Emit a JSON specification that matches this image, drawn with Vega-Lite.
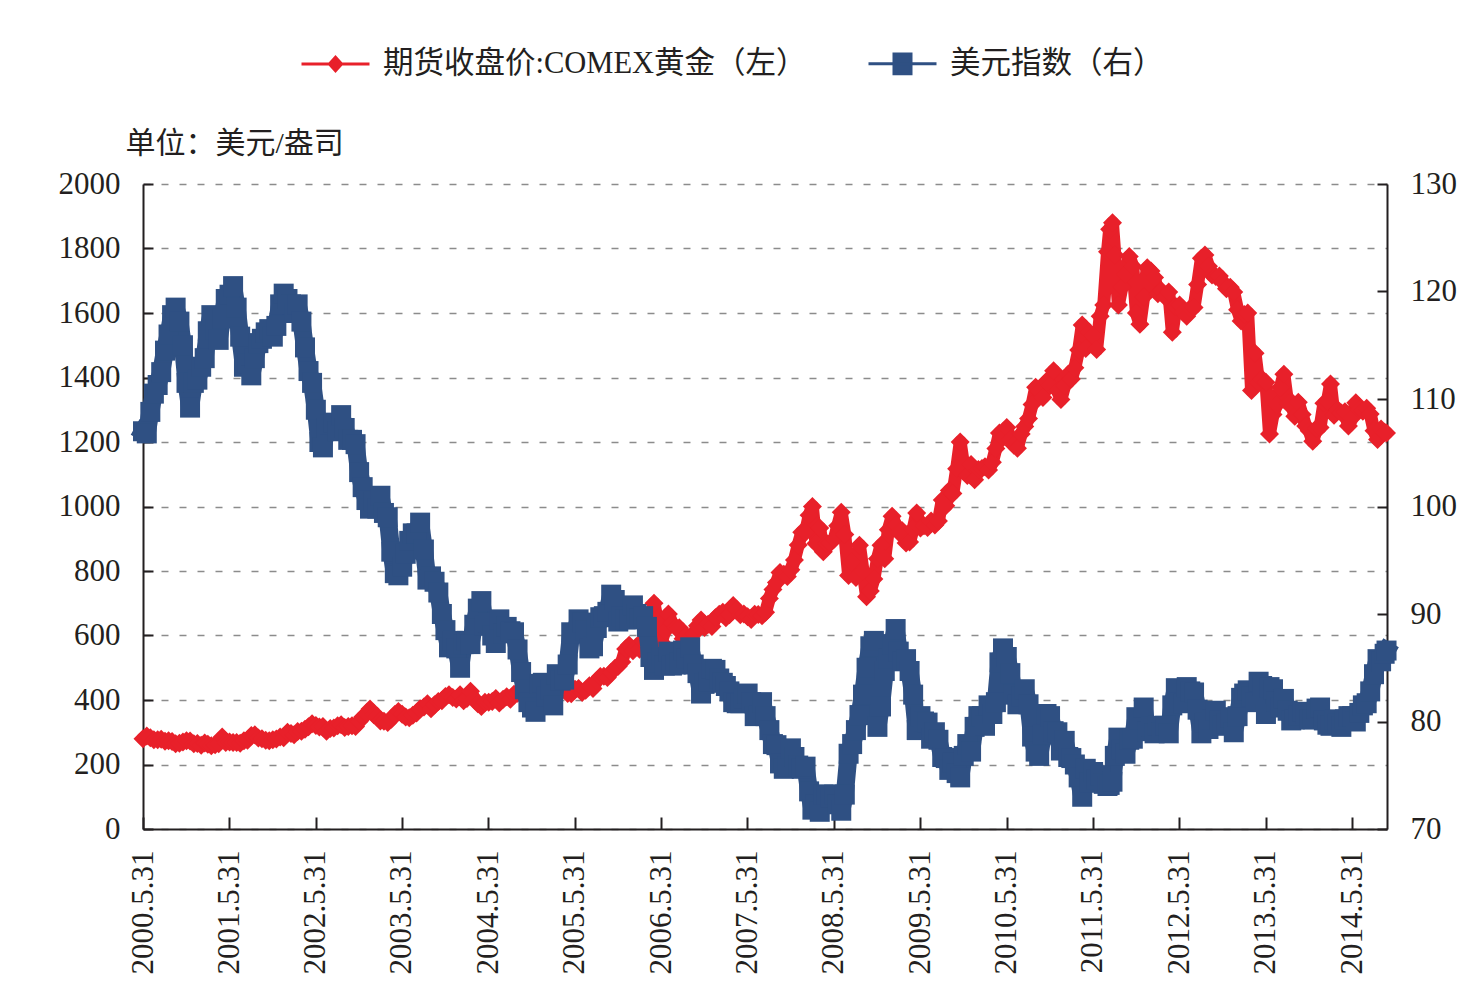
{
  "$schema": "https://vega.github.io/schema/vega-lite/v6.json",
  "width": 1244,
  "height": 645,
  "autosize": {"type": "none"},
  "padding": {"left": 143, "top": 184, "right": 91, "bottom": 178},
  "background": "white",
  "config": {
    "view": {"stroke": null},
    "font": "Liberation Serif, Noto Sans CJK SC",
    "axis": {
      "labelFont": "Liberation Serif, Noto Sans CJK SC",
      "labelFontSize": 31,
      "labelColor": "#231f20",
      "domainColor": "#231f20",
      "domainWidth": 2,
      "tickColor": "#231f20",
      "tickWidth": 2,
      "titleFont": "Liberation Serif, Noto Sans CJK SC",
      "titleColor": "#231f20",
      "titleFontWeight": "normal"
    }
  },
  "data": {
    "values": [
      {"d": "2000-05-31", "g": 280, "u": 107.0},
      {"d": "2000-06-16", "g": 288, "u": 106.8},
      {"d": "2000-07-01", "g": 283, "u": 108.8},
      {"d": "2000-07-16", "g": 277, "u": 110.5},
      {"d": "2000-08-01", "g": 277, "u": 111.3},
      {"d": "2000-08-16", "g": 278, "u": 112.5},
      {"d": "2000-09-01", "g": 272, "u": 114.5},
      {"d": "2000-09-16", "g": 274, "u": 116.0},
      {"d": "2000-10-01", "g": 271, "u": 117.8},
      {"d": "2000-10-16", "g": 264, "u": 118.5},
      {"d": "2000-11-01", "g": 266, "u": 117.2},
      {"d": "2000-11-16", "g": 270, "u": 115.0},
      {"d": "2000-12-01", "g": 274, "u": 111.5},
      {"d": "2000-12-16", "g": 273, "u": 109.2},
      {"d": "2001-01-01", "g": 264, "u": 111.5},
      {"d": "2001-01-16", "g": 265, "u": 111.8},
      {"d": "2001-02-01", "g": 260, "u": 113.0},
      {"d": "2001-02-16", "g": 267, "u": 113.8},
      {"d": "2001-03-01", "g": 263, "u": 116.3},
      {"d": "2001-03-16", "g": 258, "u": 117.8},
      {"d": "2001-04-01", "g": 261, "u": 116.5},
      {"d": "2001-04-16", "g": 264, "u": 115.5},
      {"d": "2001-05-01", "g": 285, "u": 117.5},
      {"d": "2001-05-16", "g": 268, "u": 119.3},
      {"d": "2001-06-01", "g": 270, "u": 119.7},
      {"d": "2001-06-16", "g": 268, "u": 120.5},
      {"d": "2001-07-01", "g": 268, "u": 118.5},
      {"d": "2001-07-16", "g": 266, "u": 115.8},
      {"d": "2001-08-01", "g": 274, "u": 113.0},
      {"d": "2001-08-16", "g": 275, "u": 113.3},
      {"d": "2001-09-01", "g": 290, "u": 112.2},
      {"d": "2001-09-16", "g": 292, "u": 113.8},
      {"d": "2001-10-01", "g": 282, "u": 115.2},
      {"d": "2001-10-16", "g": 280, "u": 115.6},
      {"d": "2001-11-01", "g": 275, "u": 116.2},
      {"d": "2001-11-16", "g": 274, "u": 116.5},
      {"d": "2001-12-01", "g": 277, "u": 115.8},
      {"d": "2001-12-16", "g": 279, "u": 116.8},
      {"d": "2002-01-01", "g": 285, "u": 118.8},
      {"d": "2002-01-16", "g": 283, "u": 119.8},
      {"d": "2002-02-01", "g": 300, "u": 119.3},
      {"d": "2002-02-16", "g": 296, "u": 118.8},
      {"d": "2002-03-01", "g": 292, "u": 118.0},
      {"d": "2002-03-16", "g": 302, "u": 118.8},
      {"d": "2002-04-01", "g": 303, "u": 117.2},
      {"d": "2002-04-16", "g": 309, "u": 114.8},
      {"d": "2002-05-01", "g": 317, "u": 112.6},
      {"d": "2002-05-16", "g": 326, "u": 111.5},
      {"d": "2002-06-01", "g": 321, "u": 109.0},
      {"d": "2002-06-16", "g": 316, "u": 106.0},
      {"d": "2002-07-01", "g": 318, "u": 105.5},
      {"d": "2002-07-16", "g": 303, "u": 107.3},
      {"d": "2002-08-01", "g": 312, "u": 107.6},
      {"d": "2002-08-16", "g": 313, "u": 107.8},
      {"d": "2002-09-01", "g": 320, "u": 107.0},
      {"d": "2002-09-16", "g": 323, "u": 108.5},
      {"d": "2002-10-01", "g": 315, "u": 107.3},
      {"d": "2002-10-16", "g": 318, "u": 106.2},
      {"d": "2002-11-01", "g": 320, "u": 106.2},
      {"d": "2002-11-16", "g": 318, "u": 105.8},
      {"d": "2002-12-01", "g": 333, "u": 103.2},
      {"d": "2002-12-16", "g": 347, "u": 101.8},
      {"d": "2003-01-01", "g": 357, "u": 100.6},
      {"d": "2003-01-16", "g": 372, "u": 99.8},
      {"d": "2003-02-01", "g": 354, "u": 100.5},
      {"d": "2003-02-16", "g": 350, "u": 99.8},
      {"d": "2003-03-01", "g": 335, "u": 101.0},
      {"d": "2003-03-16", "g": 334, "u": 99.4},
      {"d": "2003-04-01", "g": 330, "u": 99.0},
      {"d": "2003-04-16", "g": 340, "u": 95.8},
      {"d": "2003-05-01", "g": 355, "u": 93.8},
      {"d": "2003-05-16", "g": 364, "u": 93.6},
      {"d": "2003-06-01", "g": 356, "u": 94.4},
      {"d": "2003-06-16", "g": 347, "u": 95.6},
      {"d": "2003-07-01", "g": 345, "u": 96.8},
      {"d": "2003-07-16", "g": 353, "u": 97.5},
      {"d": "2003-08-01", "g": 360, "u": 97.5},
      {"d": "2003-08-16", "g": 373, "u": 98.5},
      {"d": "2003-09-01", "g": 378, "u": 96.0},
      {"d": "2003-09-16", "g": 388, "u": 93.2},
      {"d": "2003-10-01", "g": 373, "u": 93.5},
      {"d": "2003-10-16", "g": 385, "u": 93.0},
      {"d": "2003-11-01", "g": 395, "u": 92.0},
      {"d": "2003-11-16", "g": 398, "u": 90.0},
      {"d": "2003-12-01", "g": 411, "u": 88.5},
      {"d": "2003-12-16", "g": 416, "u": 86.9},
      {"d": "2004-01-01", "g": 408, "u": 87.5},
      {"d": "2004-01-16", "g": 403, "u": 86.8},
      {"d": "2004-02-01", "g": 416, "u": 85.0},
      {"d": "2004-02-16", "g": 398, "u": 87.2},
      {"d": "2004-03-01", "g": 405, "u": 87.5},
      {"d": "2004-03-16", "g": 427, "u": 87.2},
      {"d": "2004-04-01", "g": 404, "u": 89.0},
      {"d": "2004-04-16", "g": 388, "u": 90.5},
      {"d": "2004-05-01", "g": 380, "u": 91.2},
      {"d": "2004-05-16", "g": 393, "u": 88.9},
      {"d": "2004-06-01", "g": 393, "u": 89.2},
      {"d": "2004-06-16", "g": 395, "u": 88.0},
      {"d": "2004-07-01", "g": 405, "u": 87.3},
      {"d": "2004-07-16", "g": 391, "u": 89.5},
      {"d": "2004-08-01", "g": 402, "u": 88.2},
      {"d": "2004-08-16", "g": 410, "u": 88.8},
      {"d": "2004-09-01", "g": 402, "u": 88.4},
      {"d": "2004-09-16", "g": 418, "u": 88.3},
      {"d": "2004-10-01", "g": 421, "u": 86.7},
      {"d": "2004-10-16", "g": 429, "u": 84.6},
      {"d": "2004-11-01", "g": 441, "u": 83.0},
      {"d": "2004-11-16", "g": 454, "u": 81.8},
      {"d": "2004-12-01", "g": 439, "u": 81.3},
      {"d": "2004-12-16", "g": 438, "u": 80.9},
      {"d": "2005-01-01", "g": 420, "u": 83.5},
      {"d": "2005-01-16", "g": 423, "u": 83.6},
      {"d": "2005-02-01", "g": 425, "u": 82.3},
      {"d": "2005-02-16", "g": 437, "u": 83.0},
      {"d": "2005-03-01", "g": 442, "u": 81.5},
      {"d": "2005-03-16", "g": 428, "u": 84.4},
      {"d": "2005-04-01", "g": 431, "u": 83.8},
      {"d": "2005-04-16", "g": 436, "u": 83.9},
      {"d": "2005-05-01", "g": 420, "u": 85.3},
      {"d": "2005-05-16", "g": 419, "u": 88.3},
      {"d": "2005-06-01", "g": 433, "u": 88.2},
      {"d": "2005-06-16", "g": 436, "u": 89.5},
      {"d": "2005-07-01", "g": 423, "u": 89.2},
      {"d": "2005-07-16", "g": 430, "u": 88.5},
      {"d": "2005-08-01", "g": 444, "u": 86.8},
      {"d": "2005-08-16", "g": 436, "u": 87.0},
      {"d": "2005-09-01", "g": 460, "u": 88.7},
      {"d": "2005-09-16", "g": 473, "u": 89.7},
      {"d": "2005-10-01", "g": 474, "u": 89.8},
      {"d": "2005-10-16", "g": 470, "u": 90.2},
      {"d": "2005-11-01", "g": 485, "u": 91.8},
      {"d": "2005-11-16", "g": 498, "u": 91.3},
      {"d": "2005-12-01", "g": 505, "u": 89.3},
      {"d": "2005-12-16", "g": 518, "u": 89.8},
      {"d": "2006-01-01", "g": 558, "u": 89.5},
      {"d": "2006-01-16", "g": 570, "u": 89.5},
      {"d": "2006-02-01", "g": 553, "u": 90.8},
      {"d": "2006-02-16", "g": 566, "u": 90.0},
      {"d": "2006-03-01", "g": 557, "u": 89.6},
      {"d": "2006-03-16", "g": 584, "u": 89.8},
      {"d": "2006-04-01", "g": 600, "u": 88.8},
      {"d": "2006-04-16", "g": 655, "u": 86.0},
      {"d": "2006-05-01", "g": 700, "u": 84.8},
      {"d": "2006-05-16", "g": 645, "u": 85.5},
      {"d": "2006-06-01", "g": 580, "u": 86.0},
      {"d": "2006-06-16", "g": 614, "u": 85.2},
      {"d": "2006-07-01", "g": 667, "u": 86.5},
      {"d": "2006-07-16", "g": 638, "u": 85.2},
      {"d": "2006-08-01", "g": 625, "u": 85.3},
      {"d": "2006-08-16", "g": 624, "u": 85.5},
      {"d": "2006-09-01", "g": 590, "u": 86.6},
      {"d": "2006-09-16", "g": 599, "u": 85.9},
      {"d": "2006-10-01", "g": 593, "u": 86.9},
      {"d": "2006-10-16", "g": 605, "u": 85.3},
      {"d": "2006-11-01", "g": 630, "u": 84.5},
      {"d": "2006-11-16", "g": 648, "u": 82.6},
      {"d": "2006-12-01", "g": 625, "u": 83.5},
      {"d": "2006-12-16", "g": 635, "u": 83.7},
      {"d": "2007-01-01", "g": 628, "u": 84.9},
      {"d": "2007-01-16", "g": 655, "u": 84.8},
      {"d": "2007-02-01", "g": 666, "u": 84.0},
      {"d": "2007-02-16", "g": 672, "u": 83.6},
      {"d": "2007-03-01", "g": 655, "u": 83.3},
      {"d": "2007-03-16", "g": 664, "u": 82.8},
      {"d": "2007-04-01", "g": 693, "u": 81.8},
      {"d": "2007-04-16", "g": 679, "u": 81.7},
      {"d": "2007-05-01", "g": 664, "u": 81.7},
      {"d": "2007-05-16", "g": 667, "u": 82.1},
      {"d": "2007-06-01", "g": 658, "u": 82.6},
      {"d": "2007-06-16", "g": 650, "u": 81.8},
      {"d": "2007-07-01", "g": 666, "u": 80.5},
      {"d": "2007-07-16", "g": 665, "u": 80.6},
      {"d": "2007-08-01", "g": 661, "u": 81.8},
      {"d": "2007-08-16", "g": 672, "u": 80.5},
      {"d": "2007-09-01", "g": 715, "u": 79.2},
      {"d": "2007-09-16", "g": 743, "u": 77.9},
      {"d": "2007-10-01", "g": 764, "u": 77.8},
      {"d": "2007-10-16", "g": 795, "u": 76.1},
      {"d": "2007-11-01", "g": 790, "u": 75.6},
      {"d": "2007-11-16", "g": 783, "u": 75.8},
      {"d": "2007-12-01", "g": 804, "u": 77.5},
      {"d": "2007-12-16", "g": 834, "u": 76.7},
      {"d": "2008-01-01", "g": 881, "u": 75.9},
      {"d": "2008-01-16", "g": 920, "u": 75.6},
      {"d": "2008-02-01", "g": 920, "u": 75.8},
      {"d": "2008-02-16", "g": 973, "u": 73.5},
      {"d": "2008-03-01", "g": 1000, "u": 71.8},
      {"d": "2008-03-16", "g": 885, "u": 72.3},
      {"d": "2008-04-01", "g": 933, "u": 71.6},
      {"d": "2008-04-16", "g": 860, "u": 73.2},
      {"d": "2008-05-01", "g": 885, "u": 73.2},
      {"d": "2008-05-16", "g": 887, "u": 72.9},
      {"d": "2008-06-01", "g": 899, "u": 73.2},
      {"d": "2008-06-16", "g": 940, "u": 72.3},
      {"d": "2008-07-01", "g": 982, "u": 71.7},
      {"d": "2008-07-16", "g": 913, "u": 73.2},
      {"d": "2008-08-01", "g": 786, "u": 77.0},
      {"d": "2008-08-16", "g": 828, "u": 77.9},
      {"d": "2008-09-01", "g": 780, "u": 79.2},
      {"d": "2008-09-16", "g": 880, "u": 80.6},
      {"d": "2008-10-01", "g": 800, "u": 82.5},
      {"d": "2008-10-16", "g": 720, "u": 85.0},
      {"d": "2008-11-01", "g": 738, "u": 87.0},
      {"d": "2008-11-16", "g": 775, "u": 87.5},
      {"d": "2008-12-01", "g": 838, "u": 79.5},
      {"d": "2008-12-16", "g": 880, "u": 81.4},
      {"d": "2009-01-01", "g": 838, "u": 84.7},
      {"d": "2009-01-16", "g": 928, "u": 85.9},
      {"d": "2009-02-01", "g": 970, "u": 87.2},
      {"d": "2009-02-16", "g": 943, "u": 88.6},
      {"d": "2009-03-01", "g": 920, "u": 86.5},
      {"d": "2009-03-16", "g": 925, "u": 85.6},
      {"d": "2009-04-01", "g": 887, "u": 85.8},
      {"d": "2009-04-16", "g": 890, "u": 84.7},
      {"d": "2009-05-01", "g": 930, "u": 82.5},
      {"d": "2009-05-16", "g": 980, "u": 79.2},
      {"d": "2009-06-01", "g": 933, "u": 80.5},
      {"d": "2009-06-16", "g": 940, "u": 80.0},
      {"d": "2009-07-01", "g": 935, "u": 79.9},
      {"d": "2009-07-16", "g": 955, "u": 78.4},
      {"d": "2009-08-01", "g": 943, "u": 79.0},
      {"d": "2009-08-16", "g": 955, "u": 78.3},
      {"d": "2009-09-01", "g": 1020, "u": 76.7},
      {"d": "2009-09-16", "g": 1002, "u": 76.6},
      {"d": "2009-10-01", "g": 1050, "u": 75.5},
      {"d": "2009-10-16", "g": 1040, "u": 76.2},
      {"d": "2009-11-01", "g": 1117, "u": 75.2},
      {"d": "2009-11-16", "g": 1200, "u": 74.8},
      {"d": "2009-12-01", "g": 1125, "u": 76.8},
      {"d": "2009-12-16", "g": 1096, "u": 77.9},
      {"d": "2010-01-01", "g": 1130, "u": 77.2},
      {"d": "2010-01-16", "g": 1083, "u": 79.5},
      {"d": "2010-02-01", "g": 1115, "u": 80.5},
      {"d": "2010-02-16", "g": 1118, "u": 80.5},
      {"d": "2010-03-01", "g": 1123, "u": 79.6},
      {"d": "2010-03-16", "g": 1113, "u": 81.5},
      {"d": "2010-04-01", "g": 1137, "u": 80.7},
      {"d": "2010-04-16", "g": 1180, "u": 81.8},
      {"d": "2010-05-01", "g": 1228, "u": 85.5},
      {"d": "2010-05-16", "g": 1213, "u": 86.8},
      {"d": "2010-06-01", "g": 1245, "u": 86.0},
      {"d": "2010-06-16", "g": 1208, "u": 84.5},
      {"d": "2010-07-01", "g": 1190, "u": 82.5},
      {"d": "2010-07-16", "g": 1181, "u": 81.6},
      {"d": "2010-08-01", "g": 1225, "u": 82.3},
      {"d": "2010-08-16", "g": 1248, "u": 83.0},
      {"d": "2010-09-01", "g": 1273, "u": 81.6},
      {"d": "2010-09-16", "g": 1316, "u": 78.6},
      {"d": "2010-10-01", "g": 1370, "u": 77.2},
      {"d": "2010-10-16", "g": 1357, "u": 76.8},
      {"d": "2010-11-01", "g": 1338, "u": 78.8},
      {"d": "2010-11-16", "g": 1388, "u": 80.7},
      {"d": "2010-12-01", "g": 1375, "u": 80.5},
      {"d": "2010-12-16", "g": 1421, "u": 79.1},
      {"d": "2011-01-01", "g": 1360, "u": 79.0},
      {"d": "2011-01-16", "g": 1332, "u": 77.3},
      {"d": "2011-02-01", "g": 1375, "u": 78.2},
      {"d": "2011-02-16", "g": 1410, "u": 76.7},
      {"d": "2011-03-01", "g": 1395, "u": 76.6},
      {"d": "2011-03-16", "g": 1430, "u": 76.0},
      {"d": "2011-04-01", "g": 1485, "u": 74.8},
      {"d": "2011-04-16", "g": 1563, "u": 73.0},
      {"d": "2011-05-01", "g": 1490, "u": 75.6},
      {"d": "2011-05-16", "g": 1540, "u": 74.3},
      {"d": "2011-06-01", "g": 1530, "u": 75.3},
      {"d": "2011-06-16", "g": 1487, "u": 74.6},
      {"d": "2011-07-01", "g": 1590, "u": 75.0},
      {"d": "2011-07-16", "g": 1625, "u": 74.2},
      {"d": "2011-08-01", "g": 1790, "u": 74.0},
      {"d": "2011-08-10", "g": 1860, "u": 74.1},
      {"d": "2011-08-22", "g": 1880, "u": 74.4},
      {"d": "2011-09-01", "g": 1780, "u": 76.8},
      {"d": "2011-09-16", "g": 1625, "u": 78.5},
      {"d": "2011-10-01", "g": 1680, "u": 77.4},
      {"d": "2011-10-16", "g": 1720, "u": 77.0},
      {"d": "2011-11-01", "g": 1775, "u": 78.3},
      {"d": "2011-11-16", "g": 1745, "u": 78.4},
      {"d": "2011-12-01", "g": 1600, "u": 80.4},
      {"d": "2011-12-16", "g": 1565, "u": 80.2},
      {"d": "2012-01-01", "g": 1650, "u": 81.3},
      {"d": "2012-01-16", "g": 1740, "u": 79.1},
      {"d": "2012-02-01", "g": 1730, "u": 79.5},
      {"d": "2012-02-16", "g": 1710, "u": 78.9},
      {"d": "2012-03-01", "g": 1660, "u": 79.6},
      {"d": "2012-03-16", "g": 1669, "u": 79.0},
      {"d": "2012-04-01", "g": 1650, "u": 79.6},
      {"d": "2012-04-16", "g": 1665, "u": 78.9},
      {"d": "2012-05-01", "g": 1540, "u": 81.5},
      {"d": "2012-05-16", "g": 1620, "u": 83.1},
      {"d": "2012-06-01", "g": 1625, "u": 81.8},
      {"d": "2012-06-16", "g": 1604, "u": 81.7},
      {"d": "2012-07-01", "g": 1590, "u": 83.2},
      {"d": "2012-07-16", "g": 1615, "u": 82.8},
      {"d": "2012-08-01", "g": 1617, "u": 82.7},
      {"d": "2012-08-16", "g": 1688, "u": 81.1},
      {"d": "2012-09-01", "g": 1770, "u": 78.9},
      {"d": "2012-09-16", "g": 1780, "u": 79.9},
      {"d": "2012-10-01", "g": 1745, "u": 79.3},
      {"d": "2012-10-16", "g": 1718, "u": 80.2},
      {"d": "2012-11-01", "g": 1713, "u": 81.0},
      {"d": "2012-11-16", "g": 1715, "u": 80.1},
      {"d": "2012-12-01", "g": 1695, "u": 79.6},
      {"d": "2012-12-16", "g": 1675, "u": 79.8},
      {"d": "2013-01-01", "g": 1680, "u": 80.4},
      {"d": "2013-01-16", "g": 1665, "u": 79.0},
      {"d": "2013-02-01", "g": 1610, "u": 80.5},
      {"d": "2013-02-16", "g": 1575, "u": 82.2},
      {"d": "2013-03-01", "g": 1595, "u": 82.6},
      {"d": "2013-03-16", "g": 1600, "u": 82.9},
      {"d": "2013-04-01", "g": 1360, "u": 82.3},
      {"d": "2013-04-16", "g": 1475, "u": 81.8},
      {"d": "2013-05-01", "g": 1385, "u": 83.7},
      {"d": "2013-05-16", "g": 1395, "u": 83.3},
      {"d": "2013-06-01", "g": 1385, "u": 80.7},
      {"d": "2013-06-16", "g": 1225, "u": 83.2},
      {"d": "2013-07-01", "g": 1285, "u": 83.0},
      {"d": "2013-07-16", "g": 1315, "u": 81.9},
      {"d": "2013-08-01", "g": 1370, "u": 81.3},
      {"d": "2013-08-16", "g": 1410, "u": 82.1},
      {"d": "2013-09-01", "g": 1320, "u": 81.0},
      {"d": "2013-09-16", "g": 1325, "u": 80.1},
      {"d": "2013-10-01", "g": 1280, "u": 80.2},
      {"d": "2013-10-16", "g": 1323, "u": 80.6},
      {"d": "2013-11-01", "g": 1285, "u": 80.9},
      {"d": "2013-11-16", "g": 1250, "u": 80.7},
      {"d": "2013-12-01", "g": 1235, "u": 80.2},
      {"d": "2013-12-16", "g": 1202, "u": 80.2},
      {"d": "2014-01-01", "g": 1243, "u": 81.2},
      {"d": "2014-01-16", "g": 1245, "u": 81.3},
      {"d": "2014-02-01", "g": 1320, "u": 80.1},
      {"d": "2014-02-16", "g": 1326, "u": 79.7},
      {"d": "2014-03-01", "g": 1380, "u": 79.6},
      {"d": "2014-03-16", "g": 1283, "u": 80.2},
      {"d": "2014-04-01", "g": 1300, "u": 79.8},
      {"d": "2014-04-16", "g": 1290, "u": 79.5},
      {"d": "2014-05-01", "g": 1294, "u": 80.2},
      {"d": "2014-05-16", "g": 1250, "u": 80.5},
      {"d": "2014-06-01", "g": 1275, "u": 80.5},
      {"d": "2014-06-16", "g": 1322, "u": 80.0},
      {"d": "2014-07-01", "g": 1300, "u": 80.8},
      {"d": "2014-07-16", "g": 1295, "u": 81.5},
      {"d": "2014-08-01", "g": 1305, "u": 81.7},
      {"d": "2014-08-16", "g": 1287, "u": 82.8},
      {"d": "2014-09-01", "g": 1235, "u": 84.4},
      {"d": "2014-09-16", "g": 1208, "u": 85.8},
      {"d": "2014-10-01", "g": 1240, "u": 85.6},
      {"d": "2014-10-16", "g": 1230, "u": 86.3},
      {"d": "2014-10-24", "g": 1228, "u": 86.6}
    ]
  },
  "encoding": {
    "x": {
      "field": "d",
      "type": "temporal",
      "scale": {
        "domain": [{"year": 2000, "month": 5, "date": 31}, {"year": 2014, "month": 10, "date": 26}],
        "nice": false
      },
      "axis": {
        "title": null,
        "grid": false,
        "values": [
          {"year": 2000, "month": 5, "date": 31},
          {"year": 2001, "month": 5, "date": 31},
          {"year": 2002, "month": 5, "date": 31},
          {"year": 2003, "month": 5, "date": 31},
          {"year": 2004, "month": 5, "date": 31},
          {"year": 2005, "month": 5, "date": 31},
          {"year": 2006, "month": 5, "date": 31},
          {"year": 2007, "month": 5, "date": 31},
          {"year": 2008, "month": 5, "date": 31},
          {"year": 2009, "month": 5, "date": 31},
          {"year": 2010, "month": 5, "date": 31},
          {"year": 2011, "month": 5, "date": 31},
          {"year": 2012, "month": 5, "date": 31},
          {"year": 2013, "month": 5, "date": 31},
          {"year": 2014, "month": 5, "date": 31}
        ],
        "format": "%Y.%-m.%-d",
        "labelAngle": -90,
        "labelAlign": "right",
        "labelBaseline": "middle",
        "labelOverlap": false,
        "labelFlush": false,
        "tickSize": -12,
        "labelPadding": 33
      }
    }
  },
  "layer": [
    {
      "encoding": {
        "y": {
          "field": "g",
          "type": "quantitative",
          "scale": {"domain": [0, 2000], "nice": false},
          "axis": {
            "orient": "left",
            "values": [0, 200, 400, 600, 800, 1000, 1200, 1400, 1600, 1800, 2000],
            "format": "d",
            "tickSize": -10,
            "labelPadding": 33,
            "labelFlush": false,
            "grid": true,
            "gridColor": "#8c8c8c",
            "gridDash": [7, 11],
            "gridWidth": 1.5,
            "title": "单位：美元/盎司",
            "titleAngle": 0,
            "titleAlign": "left",
            "titleBaseline": "middle",
            "titleFontSize": 30,
            "titleX": -18,
            "titleY": -41
          }
        },
        "color": {
          "datum": "期货收盘价:COMEX黄金（左）",
          "type": "nominal",
          "scale": {
            "domain": ["期货收盘价:COMEX黄金（左）", "美元指数（右）"],
            "range": ["#e8202a", "#2f5083"]
          },
          "legend": {
            "orient": "none",
            "legendX": 157,
            "legendY": -156,
            "direction": "horizontal",
            "title": null,
            "labelFont": "Liberation Serif, Noto Sans CJK SC",
            "labelFontSize": 30.5,
            "labelColor": "#231f20",
            "labelLimit": 0,
            "labelOffset": 12,
            "columnPadding": 55,
            "symbolSize": 4624,
            "symbolStrokeWidth": 3,
            "symbolType": "M-1,0L1,0",
            "encode": {
              "symbols": {
                "update": {
                  "shape": {"signal": "datum.value === '美元指数（右）' ? 'M-1,0L1,0M-0.25,-0.29H0.25V0.29H-0.25Z' : 'M-1,0L1,0M-0.18,0L0,-0.2L0.18,0L0,0.2Z'"},
                  "fill": {"scale": "color", "field": "value"},
                  "stroke": {"scale": "color", "field": "value"},
                  "strokeWidth": {"value": 3},
                  "opacity": {"value": 1}
                }
              }
            }
          }
        }
      },
      "layer": [
        {"mark": {"type": "line", "strokeWidth": 13, "strokeJoin": "round", "strokeCap": "round"}},
        {"mark": {"type": "point", "shape": "diamond", "filled": true, "size": 361, "opacity": 1, "strokeWidth": 0}}
      ]
    },
    {
      "encoding": {
        "y": {
          "field": "u",
          "type": "quantitative",
          "scale": {"domain": [70, 130], "nice": false, "zero": false},
          "axis": {
            "orient": "right",
            "values": [70, 80, 90, 100, 110, 120, 130],
            "tickSize": -10,
            "labelPadding": 33,
            "labelFlush": false,
            "grid": false,
            "title": null
          }
        },
        "color": {"datum": "美元指数（右）", "type": "nominal"}
      },
      "layer": [
        {"mark": {"type": "line", "strokeWidth": 18, "strokeJoin": "bevel", "strokeCap": "square"}},
        {"mark": {"type": "point", "shape": "square", "filled": true, "size": 400, "opacity": 1, "strokeWidth": 0}}
      ]
    }
  ],
  "resolve": {"scale": {"y": "independent"}}
}
